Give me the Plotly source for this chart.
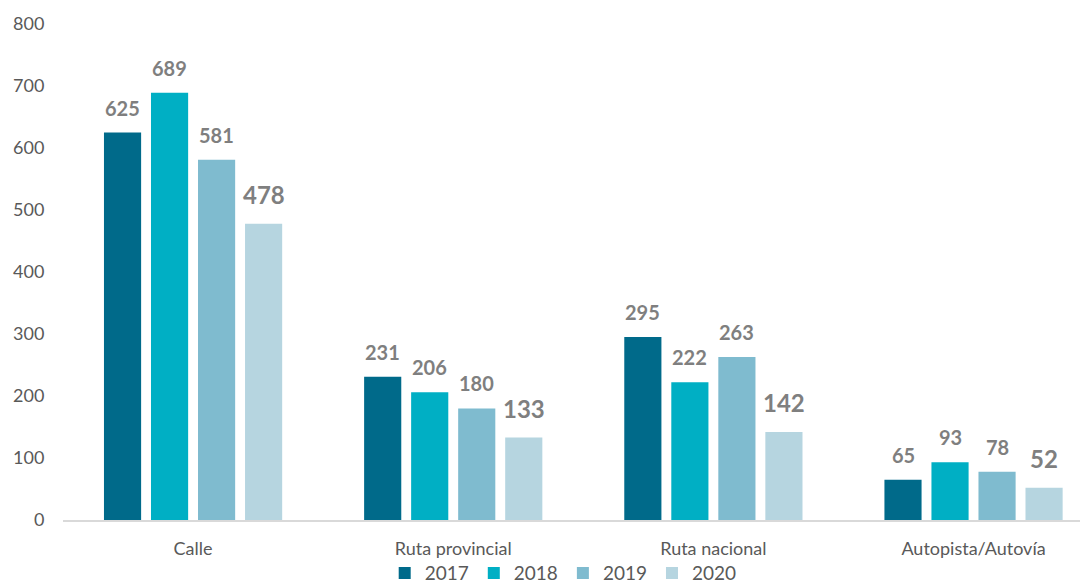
import plotly.graph_objects as go

categories = ["Calle", "Ruta provincial", "Ruta nacional", "Autopista/Autovía"]
years = ["2017", "2018", "2019", "2020"]
v2017 = [625, 231, 295, 65]
v2018 = [689, 206, 222, 93]
v2019 = [581, 180, 263, 78]
v2020 = [478, 133, 142, 52]
series = [v2017, v2018, v2019, v2020]
colors = ["#006a8a", "#00afc4", "#7fbbcf", "#b6d5e0"]
label_sizes = [20, 20, 20, 24]
label_shifts = [11, 11, 11, 13]

FONT = "Lato, 'Open Sans', sans-serif"

fig = go.Figure()
for yr, vals, col in zip(years, series, colors):
    fig.add_trace(go.Bar(name=yr, x=categories, y=vals, marker=dict(color=col, line=dict(width=0))))

cat_px = 260.0
slot_px = cat_px * (1 - 0.277) / 4
annotations = []
for i, (vals, fs, ys) in enumerate(zip(series, label_sizes, label_shifts)):
    for c, v in zip(categories, vals):
        annotations.append(dict(
            x=c, y=v, xref="x", yref="y", text=f"<b>{v}</b>", showarrow=False,
            xshift=(i - 1.5) * slot_px, yshift=ys, yanchor="bottom",
            font=dict(family=FONT, size=fs, color="#7f7f7f"),
        ))

fig.update_layout(
    width=1088, height=583,
    margin=dict(l=55, r=8, t=16, b=71, autoexpand=False),
    paper_bgcolor="white", plot_bgcolor="white",
    barmode="group", bargap=0.277, bargroupgap=0.21,
    font=dict(family=FONT, color="#595959", size=18),
    annotations=annotations,
    showlegend=True,
    legend=dict(orientation="h", x=0.488, xanchor="center", y=-0.107, yanchor="middle",
                font=dict(family=FONT, size=19, color="#595959"),
                itemwidth=30, tracegroupgap=0, bgcolor="rgba(0,0,0,0)"),
    xaxis=dict(range=[-0.5, 3.44], showgrid=False, showline=True, linecolor="#d9d9d9", linewidth=1.5,
               ticks="outside", ticklen=12, tickcolor="rgba(0,0,0,0)",
               tickfont=dict(family=FONT, size=18, color="#595959")),
    yaxis=dict(range=[0, 800], dtick=100, showgrid=False, zeroline=False, showline=False,
               ticks="outside", ticklen=14, tickcolor="rgba(0,0,0,0)",
               tickfont=dict(family=FONT, size=18, color="#595959")),
)

fig.write_html("out.html")
